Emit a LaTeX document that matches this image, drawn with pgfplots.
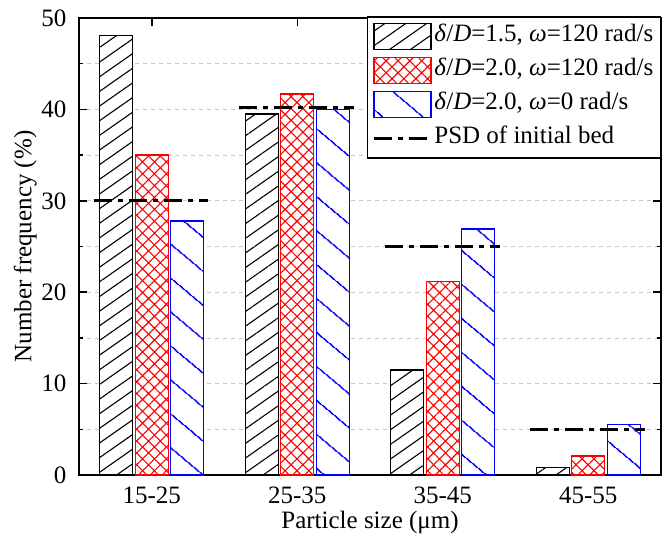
\documentclass[border=0pt]{standalone}
\usepackage{fontspec}
\setmainfont{Liberation Serif}
\usepackage{pgfplots}
\pgfplotsset{compat=1.18}
\usetikzlibrary{patterns.meta}
\pgfplotsset{
  barleg/.style={legend image code/.code={\draw[##1,/tikz/.cd,bar shift=0pt] (0pt,-6.5pt) rectangle (28.5pt,6.5pt);}},
  lineleg/.style={legend image code/.code={\draw[##1] (0pt,0pt) -- (28.5pt,0pt);}},
}
\begin{document}
\fontsize{12.5}{14}\selectfont
\begin{tikzpicture}
\begin{axis}[
  scale only axis, width=291pt, height=228.5pt,
  at={(0,0)}, anchor=south west,
  xmin=-0.5, xmax=3.5, ymin=0, ymax=50,
  xtick={0,1,2,3}, xticklabels={15-25,25-35,35-45,45-55},
  ytick={0,10,...,50}, minor ytick={5,15,...,45},
  tick align=inside, major tick length=4pt, minor tick length=2pt,
  ymajorgrids, yminorgrids,
  major grid style={black!22, dash pattern=on 2pt off 2pt, line width=0.4pt},
  minor grid style={black!22, dash pattern=on 2pt off 2pt, line width=0.4pt},
  axis line style={line width=0.75pt},
  every tick/.style={black, line width=0.75pt},
  /pgf/number format/assume math mode=true,
  tick label style={font=\fontsize{12.5}{14}\selectfont},
  xticklabel style={yshift=-1.5pt},
  yticklabel style={xshift=-2pt},
  label style={font=\fontsize{12.5}{14}\selectfont},
  ylabel={Number frequency (\%)},
  xlabel={Particle size (μm)},
  ylabel style={at={(axis description cs:-0.0925,0.5)}, anchor=center},
  xlabel style={at={(axis description cs:0.5,-0.105)}, anchor=center},
  unbounded coords=jump,
  legend style={at={(1,1.004)}, anchor=north east, draw=black, line width=0.75pt,
    font=\fontsize{12.5}{14}\selectfont, row sep=2.5pt, inner sep=2.5pt,
    nodes={inner sep=1pt, text height=9pt, text depth=3.5pt}},
  legend cell align=left,
]
\addplot[ybar, bar width=16.5pt, bar shift=-17.75pt, draw=black, line width=0.7pt, fill=white,
  postaction={pattern={Lines[angle=35, distance=6pt, line width=0.55pt]}, pattern color=black}, barleg]
  coordinates {(0,48.1) (1,39.5) (2,11.5) (3,0.8)};
\addlegendentry{\textit{δ}/\textit{D}=1.5, \textit{ω}=120 rad/s}
\addplot[ybar, bar width=16.5pt, bar shift=0pt, draw=red, line width=0.7pt, fill=white,
  postaction={pattern={Hatch[angle=45, distance=4.2pt, line width=0.55pt]}, pattern color=red}, barleg]
  coordinates {(0,35.0) (1,41.7) (2,21.2) (3,2.1)};
\addlegendentry{\textit{δ}/\textit{D}=2.0, \textit{ω}=120 rad/s}
\addplot[ybar, bar width=16.5pt, bar shift=17.75pt, draw=blue, line width=0.7pt, fill=white,
  postaction={pattern={Lines[angle=-40, distance=13pt, line width=0.8pt]}, pattern color=blue}, barleg]
  coordinates {(0,27.8) (1,40.0) (2,26.9) (3,5.5)};
\addlegendentry{\textit{δ}/\textit{D}=2.0, \textit{ω}=0 rad/s}
\addplot[black, line width=1.5pt, dash pattern=on 9pt off 3pt on 2.5pt off 3pt, lineleg]
  coordinates {(-0.4,30) (0.39,30) (0.5,nan) (0.6,40.2) (1.39,40.2) (1.5,nan)
               (1.6,25) (2.39,25) (2.5,nan) (2.6,5) (3.39,5)};
\addlegendentry{PSD of initial bed}
\end{axis}
\pgfresetboundingbox
\path[use as bounding box] (-39.5pt,-33.5pt) rectangle (291.5pt,237.5pt);
\end{tikzpicture}
\end{document}
